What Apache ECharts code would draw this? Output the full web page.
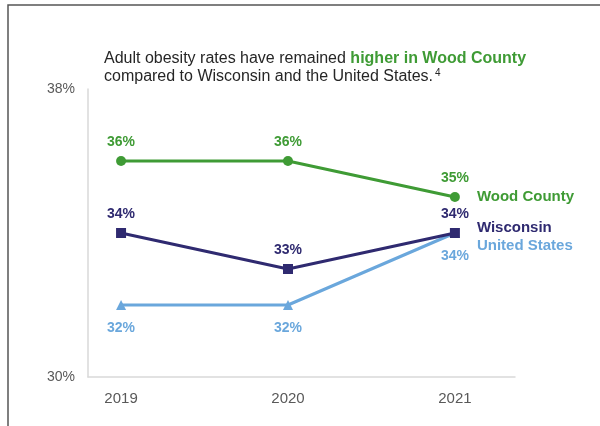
<!DOCTYPE html>
<html>
<head>
<meta charset="utf-8">
<script src="https://cdn.jsdelivr.net/npm/echarts@6/dist/echarts.min.js"></script>
<style>
html,body{margin:0;padding:0;background:#fff;}
#main{width:600px;height:426px;}
</style>
</head>
<body>
<div id="main"></div>
<script>
var categories = ['2019', '2020', '2021'];
var woodCounty = [36, 36, 35];
var wisconsin = [34, 33, 34];
var unitedStates = [32, 32, 34];
var yTickLabels = [30, 38];

var FONT = '"Liberation Sans", Arial, sans-serif';
var GREEN = '#3f9b35';
var PURPLE = '#2f2a70';
var BLUE = '#6aa7dc';

function pairs(vals) {
  return categories.map(function (c, i) { return [Number(c), vals[i]]; });
}

var chart = echarts.init(document.getElementById('main'), null, {renderer: 'canvas'});

function mkSeries(name, vals, color, symbol, labelPos, labelDist, endOffset) {
  return {
    name: name,
    type: 'line',
    data: pairs(vals),
    symbol: symbol,
    symbolSize: 10,
    lineStyle: {color: color, width: 3},
    itemStyle: {color: color},
    label: {
      show: true,
      position: labelPos,
      distance: labelDist,
      color: color,
      fontFamily: FONT,
      fontSize: 14,
      fontWeight: 'bold',
      formatter: function (p) { return p.value[1] + '%'; }
    },
    endLabel: {
      show: true,
      formatter: name,
      color: color,
      fontFamily: FONT,
      fontSize: 15,
      fontWeight: 'bold',
      distance: 5,
      offset: endOffset
    },
    emphasis: {disabled: true},
    animation: false
  };
}

chart.setOption({
  animation: false,
  backgroundColor: '#ffffff',
  title: {
    left: 104,
    top: 50,
    padding: 0,
    text: '{n|Adult obesity rates have remained }{g|higher in Wood County}\n{n|compared to Wisconsin and the United States.}{s|4}',
    textStyle: {
      fontWeight: 'normal',
      lineHeight: 18,
      rich: {
        n: {fontFamily: FONT, fontSize: 16, color: '#262626', fontWeight: 'normal', lineHeight: 18},
        g: {fontFamily: FONT, fontSize: 16, color: GREEN, fontWeight: 'bold', lineHeight: 18},
        s: {fontFamily: FONT, fontSize: 10, color: '#262626', fontWeight: 'normal', lineHeight: 18, verticalAlign: 'top', padding: [0, 0, 0, 2]}
      }
    }
  },
  grid: {left: 88, right: 85, top: 89, bottom: 49, containLabel: false},
  xAxis: {
    type: 'value',
    min: 2018.802,
    max: 2021.36,
    axisLine: {show: true, lineStyle: {color: '#d9d9d9', width: 1.5}},
    axisTick: {show: false},
    splitLine: {show: false},
    axisLabel: {
      customValues: categories.map(Number),
      formatter: function (v) { return String(v); },
      color: '#595959',
      fontFamily: FONT,
      fontSize: 15,
      margin: 14
    }
  },
  yAxis: {
    type: 'value',
    min: 30,
    max: 38,
    axisLine: {show: true, lineStyle: {color: '#d9d9d9', width: 1.5}},
    axisTick: {show: false},
    splitLine: {show: false},
    axisLabel: {
      customValues: yTickLabels,
      formatter: '{value}%',
      color: '#595959',
      fontFamily: FONT,
      fontSize: 14,
      margin: 13
    }
  },
  graphic: [{
    type: 'polyline',
    silent: true,
    shape: {points: [[8, 426], [8, 5], [600, 5]]},
    style: {stroke: '#555555', lineWidth: 1.5, fill: null}
  }],
  series: [
    mkSeries('Wood County', woodCounty, GREEN, 'circle', 'top', 7, [17, 0]),
    mkSeries('United States', unitedStates, BLUE, 'triangle', 'bottom', 11, [17, 13]),
    mkSeries('Wisconsin', wisconsin, PURPLE, 'rect', 'top', 7, [17, -5])
  ]
});
</script>
</body>
</html>
